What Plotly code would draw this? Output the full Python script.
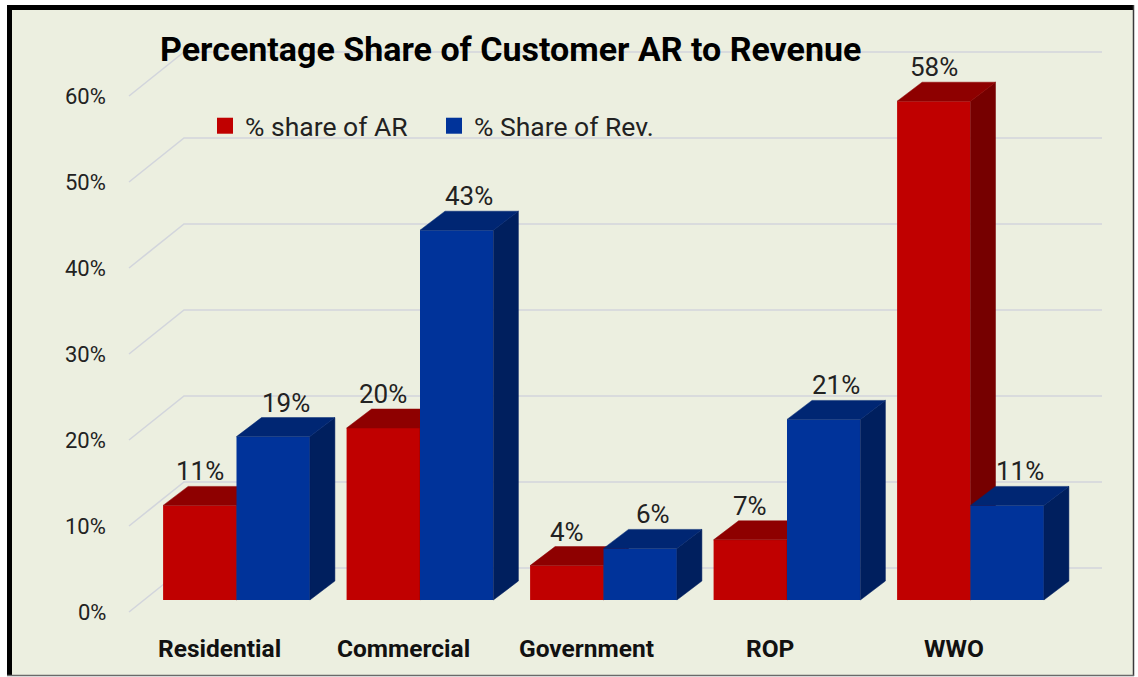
import plotly.graph_objects as go

# ---------------- data ----------------
categories = ["Residential", "Commercial", "Government", "ROP", "WWO"]
share_ar = [11, 20, 4, 7, 58]
share_rev = [19, 43, 6, 21, 11]
series_names = ["% share of AR", "% Share of Rev."]
y_ticks = [0, 10, 20, 30, 40, 50, 60]
y_tick_labels = ["0%", "10%", "20%", "30%", "40%", "50%", "60%"]
title_text = "Percentage Share of Customer AR to Revenue"

# ---------------- geometry / style ----------------
W, H = 1138, 677
GROUP_PX = 183.5          # px between category centres
X0_PX = 236.5             # px of first category centre
PCT_PX = 8.6              # px per percent
Y0_PX = 600               # px of the 0 baseline (front)

def px_to_x(p):
    return (p - X0_PX) / GROUP_PX

def py_to_y(p):
    return (Y0_PX - p) / PCT_PX

XR = [px_to_x(0), px_to_x(W)]
YR = [py_to_y(H), py_to_y(0)]

BAR_W = 0.4
DX = 25 / GROUP_PX        # depth offset (x)
DY = 19 / PCT_PX          # depth offset (y)

# walls / gridlines
GRID_FRONT_X = px_to_x(129)
GRID_BACK_X = px_to_x(184)
GRID_END_X = px_to_x(1102)
GRID_FRONT_DY = -12 / PCT_PX
GRID_BACK_DY = 32 / PCT_PX

BG = "#ECEFE0"
GRID_C = "#D2D5DC"
RED = dict(front="#C00000", top="#8E0000", side="#760000")
BLUE = dict(front="#00339A", top="#002673", side="#001F5E")
FONT = "Roboto"
TXT = "#222222"

fig = go.Figure()

# gridlines (main subplot, drawn first)
gx, gy = [], []
for v in y_ticks:
    gx += [GRID_FRONT_X, GRID_BACK_X, GRID_END_X, None]
    gy += [v + GRID_FRONT_DY, v + GRID_BACK_DY, v + GRID_BACK_DY, None]
fig.add_trace(go.Scatter(x=gx, y=gy, mode="lines", line=dict(color=GRID_C, width=1.6),
                         hoverinfo="skip", showlegend=False, xaxis="x", yaxis="y"))


def faces(values, offset):
    tx, ty, sx, sy = [], [], [], []
    for i, v in enumerate(values):
        xl = i + offset
        xr = xl + BAR_W
        tx += [xl, xl + DX, xr + DX, xr, xl, None]
        ty += [v, v + DY, v + DY, v, v, None]
        sx += [xr, xr, xr + DX, xr + DX, xr, None]
        sy += [0, v, v + DY, DY, 0, None]
    return tx, ty, sx, sy


def add_series(values, name, col, offset, xa, ya):
    xs = list(range(len(values)))
    fig.add_trace(go.Bar(x=xs, y=values, width=BAR_W, offset=offset, name=name,
                         marker=dict(color=col["front"], line=dict(width=0)),
                         showlegend=False, legendgroup=name, xaxis=xa, yaxis=ya,
                         hovertemplate="%{y}%<extra>" + name + "</extra>"))
    tx, ty, sx, sy = faces(values, offset)
    fig.add_trace(go.Scatter(x=sx, y=sy, mode="lines", fill="toself", fillcolor=col["side"],
                             line=dict(color=col["side"], width=0.5), hoverinfo="skip",
                             showlegend=False, legendgroup=name, xaxis=xa, yaxis=ya))
    fig.add_trace(go.Scatter(x=tx, y=ty, mode="lines", fill="toself", fillcolor=col["top"],
                             line=dict(color=col["top"], width=0.5), hoverinfo="skip",
                             showlegend=False, legendgroup=name, xaxis=xa, yaxis=ya))
    # legend entry
    fig.add_trace(go.Scatter(x=[None], y=[None], mode="markers", name=name,
                             marker=dict(symbol="square", size=17, color=col["front"]),
                             legendgroup=name, xaxis=xa, yaxis=ya))


add_series(share_ar, series_names[0], RED, -BAR_W, "x2", "y2")
add_series(share_rev, series_names[1], BLUE, 0.0, "x3", "y3")

annotations = []
# data labels
for i, v in enumerate(share_ar):
    annotations.append(dict(x=i - BAR_W / 2, y=v + DY, text=f"{v}%", showarrow=False,
                            xref="x", yref="y", yanchor="bottom", yshift=-2,
                            font=dict(family=FONT, size=26, color=TXT)))
for i, v in enumerate(share_rev):
    annotations.append(dict(x=i + BAR_W / 2 + DX / 2, y=v + DY, text=f"{v}%", showarrow=False,
                            xref="x", yref="y", yanchor="bottom", yshift=-2,
                            font=dict(family=FONT, size=26, color=TXT)))
# y tick labels
for v, t in zip(y_ticks, y_tick_labels):
    annotations.append(dict(x=px_to_x(108), y=v + GRID_FRONT_DY, text=t, showarrow=False,
                            xref="x", yref="y", xanchor="right", yanchor="middle",
                            font=dict(family=FONT, size=22, color=TXT)))
# category labels
for i, c in enumerate(categories):
    annotations.append(dict(x=i - 0.09, y=py_to_y(648), text=f"<b>{c}</b>", showarrow=False,
                            xref="x", yref="y", yanchor="middle",
                            font=dict(family=FONT, size=24.5, color="#111111")))
# title
annotations.append(dict(x=158 / W, y=1 - 49 / H, xref="paper", yref="paper",
                        xanchor="left", yanchor="middle", showarrow=False,
                        text=f"<b>{title_text}</b>",
                        font=dict(family=FONT, size=34, color="#000000")))

shapes = [
    dict(type="rect", xref="paper", yref="paper", x0=8 / W, x1=1134 / W,
         y0=1 - 675 / H, y1=1 - 6 / H, fillcolor=BG, line=dict(width=0), layer="below"),
    dict(type="line", xref="paper", yref="paper", x0=9.5 / W, x1=9.5 / W,
         y0=1 - 675 / H, y1=1 - 5 / H, line=dict(color="#000000", width=5)),
    dict(type="line", xref="paper", yref="paper", x0=7 / W, x1=1134 / W,
         y0=1 - 7.5 / H, y1=1 - 7.5 / H, line=dict(color="#000000", width=5)),
    dict(type="line", xref="paper", yref="paper", x0=1133.5 / W, x1=1133.5 / W,
         y0=1 - 676 / H, y1=1 - 5 / H, line=dict(color="#3A3A3A", width=1.5)),
    dict(type="line", xref="paper", yref="paper", x0=7 / W, x1=1134 / W,
         y0=1 - 675.5 / H, y1=1 - 675.5 / H, line=dict(color="#6A6A6A", width=1.5)),
]

ax = dict(range=XR, visible=False, fixedrange=True)
ay = dict(range=YR, visible=False, fixedrange=True)
fig.update_layout(
    width=W, height=H,
    margin=dict(l=0, r=0, t=0, b=0),
    paper_bgcolor="white", plot_bgcolor="white",
    xaxis=ax, yaxis=ay,
    xaxis2=dict(ax, overlaying="x"), yaxis2=dict(ay, overlaying="y"),
    xaxis3=dict(ax, overlaying="x"), yaxis3=dict(ay, overlaying="y"),
    barmode="overlay",
    showlegend=True,
    legend=dict(orientation="h", x=205 / W, y=1 - 102 / H, xanchor="left", yanchor="top",
                bgcolor="rgba(0,0,0,0)", font=dict(family=FONT, size=26.5, color=TXT),
                entrywidth=184, entrywidthmode="pixels", itemclick=False),
    annotations=annotations,
    shapes=shapes,
)

fig.write_html("out.html", config={"displayModeBar": False},
               post_script="document.body.style.margin='0px';document.body.style.overflow='hidden';")
